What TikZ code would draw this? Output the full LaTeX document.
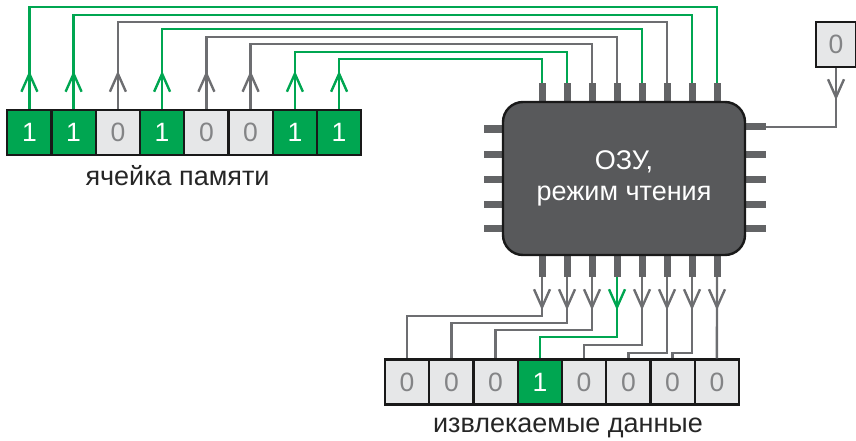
\documentclass[tikz,border=0pt]{standalone}
\usepackage{fontspec}
\setmainfont{Liberation Sans}
\usetikzlibrary{arrows.meta, positioning, decorations.markings}

\definecolor{bitgreen}{HTML}{00A651}
\definecolor{wiregray}{HTML}{6D6E71}
\definecolor{cellgray}{HTML}{E6E7E8}
\definecolor{chipgray}{HTML}{58595B}
\definecolor{leggray}{HTML}{636466}

\begin{document}
\begin{tikzpicture}[
    x=1pt, y=-1pt,
    bitone/.style={draw=black!90, line width=2.4pt, fill=bitgreen, minimum width=44.25pt, minimum height=45pt, inner sep=0pt, text=white, font=\fontsize{26.5}{30}\selectfont},
    bitzero/.style={bitone, fill=cellgray, text=wiregray!85},
    chip/.style={draw=black!90, line width=2.4pt, fill=chipgray, rounded corners=20pt, minimum width=242pt, minimum height=153pt, text=white, align=center, font=\fontsize{27}{31}\selectfont},
    vleg/.style={fill=leggray, inner sep=0pt, minimum width=7pt, minimum height=23pt},
    hleg/.style={fill=leggray, inner sep=0pt, minimum width=23pt, minimum height=7pt},
    caption/.style={anchor=base, font=\fontsize{27}{30}\selectfont, text=black!85},
    gwire/.style={draw=bitgreen, color=bitgreen, line width=2.4pt},
    wire/.style={draw=wiregray, color=wiregray, line width=2.4pt},
    barb/.style={postaction={decorate}, decoration={markings, mark=at position #1 with {\arrow{Straight Barb[length=18pt, width=16pt]}}}}
]
\useasboundingbox (0,0) rectangle (856,441);

% Memory cell
\node[bitone] (m1) at (29.4,132.5) {1};
\node[bitone] (m2) at (73.6,132.5) {1};
\node[bitzero] (m3) at (117.9,132.5) {0};
\node[bitone] (m4) at (162.1,132.5) {1};
\node[bitzero] (m5) at (206.4,132.5) {0};
\node[bitzero] (m6) at (250.6,132.5) {0};
\node[bitone] (m7) at (294.9,132.5) {1};
\node[bitone] (m8) at (339.1,132.5) {1};
\node[caption] (memlabel) at (177.5,185) {ячейка памяти};

% Chip legs
\node[vleg] (t1) at (542,94.5) {};
\node[vleg] (t2) at (567,94.5) {};
\node[vleg] (t3) at (592,94.5) {};
\node[vleg] (t4) at (617,94.5) {};
\node[vleg] (t5) at (642,94.5) {};
\node[vleg] (t6) at (667,94.5) {};
\node[vleg] (t7) at (692,94.5) {};
\node[vleg] (t8) at (717,94.5) {};

\node[vleg] (b1) at (542,265.5) {};
\node[vleg] (b2) at (567,265.5) {};
\node[vleg] (b3) at (592,265.5) {};
\node[vleg] (b4) at (617,265.5) {};
\node[vleg] (b5) at (642,265.5) {};
\node[vleg] (b6) at (667,265.5) {};
\node[vleg] (b7) at (692,265.5) {};
\node[vleg] (b8) at (717,265.5) {};

\node[hleg] (l1) at (495.5,129) {};
\node[hleg] (l2) at (495.5,154) {};
\node[hleg] (l3) at (495.5,179) {};
\node[hleg] (l4) at (495.5,204) {};
\node[hleg] (l5) at (495.5,228) {};

\node[hleg] (r1) at (754.5,127) {};
\node[hleg] (r2) at (754.5,154) {};
\node[hleg] (r3) at (754.5,179) {};
\node[hleg] (r4) at (754.5,204) {};
\node[hleg] (r5) at (754.5,228) {};

% RAM chip
\node[chip] (ram) at (624,178.5) {ОЗУ,\\режим чтения};

% Read enable bit
\node[bitzero, minimum width=40pt] (ctl) at (836,44.5) {0};
\draw[wire, barb=32pt] (ctl.south) |- (r1.east);

% Wires memory -> chip
\draw[gwire, barb=38pt] (m8.north) -- (m8.north |- 0,59) -| (t1.north);
\draw[gwire, barb=38pt] (m7.north) -- (m7.north |- 0,52) -| (t2.north);
\draw[wire, barb=38pt] (m6.north) -- (m6.north |- 0,44) -| (t3.north);
\draw[wire, barb=38pt] (m5.north) -- (m5.north |- 0,37) -| (t4.north);
\draw[gwire, barb=38pt] (m4.north) -- (m4.north |- 0,29) -| (t5.north);
\draw[wire, barb=38pt] (m3.north) -- (m3.north |- 0,22) -| (t6.north);
\draw[gwire, barb=38pt] (m2.north) -- (m2.north |- 0,15) -| (t7.north);
\draw[gwire, barb=38pt] (m1.north) -- (m1.north |- 0,7) -| (t8.north);

% Data read out
\node[bitzero] (d1) at (407.1,382) {0};
\node[bitzero] (d2) at (451.4,382) {0};
\node[bitzero] (d3) at (495.6,382) {0};
\node[bitone] (d4) at (539.9,382) {1};
\node[bitzero] (d5) at (584.1,382) {0};
\node[bitzero] (d6) at (628.4,382) {0};
\node[bitzero] (d7) at (672.6,382) {0};
\node[bitzero] (d8) at (716.9,382) {0};
\node[caption] (datalabel) at (568,432) {извлекаемые данные};

% Wires chip -> data
\draw[wire, barb=33pt] (b1.south) -- (b1.south |- 0,316) -| (d1.north);
\draw[wire, barb=33pt] (b2.south) -- (b2.south |- 0,323) -| (d2.north);
\draw[wire, barb=33pt] (b3.south) -- (b3.south |- 0,330) -| (d3.north);
\draw[gwire, barb=33pt] (b4.south) -- (b4.south |- 0,337) -| (d4.north);
\draw[wire, barb=33pt] (b5.south) -- (b5.south |- 0,345) -| (d5.north);
\draw[wire, barb=33pt] (b6.south) -- (b6.south |- 0,353) -| (d6.north);
\draw[wire, barb=33pt] (b7.south) -- (b7.south |- 0,353) -| (d7.north);
\draw[wire, barb=33pt] (b8.south) -- (d8.north);

\end{tikzpicture}
\end{document}
